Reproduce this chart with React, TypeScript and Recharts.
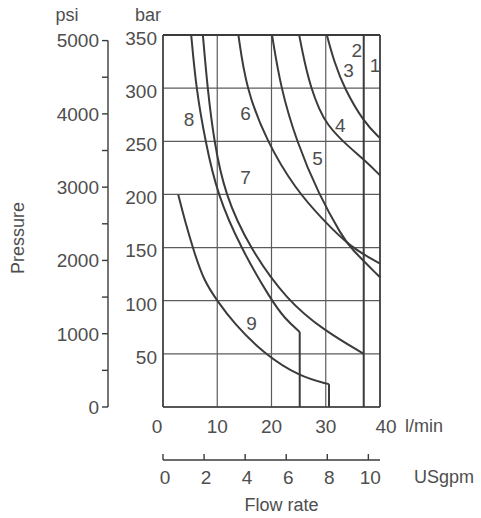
import {
  ComposedChart,
  Line,
  Scatter,
  XAxis,
  YAxis,
  CartesianGrid,
  ReferenceLine,
} from 'recharts'

// Pump power curves: pressure (bar / psi) against flow rate (l/min / USgpm).

const INK = '#3b3b3b'
const GRID = '#5c5c5c'
const TEXT = '#4e4e4e'
const FONT = '"Liberation Sans", Arial, Helvetica, sans-serif'
const NUM_SIZE = 19
const WORD_SIZE = 18

const W = 481
const H = 518
const PLOT_H = 372

const BAR_MAX = 350
const LPM_MAX = 40
const PSI_PER_BAR = 14.5038
const LPM_PER_GPM = 3.78541
const PSI_MAX = BAR_MAX * PSI_PER_BAR
const GPM_MAX = LPM_MAX / LPM_PER_GPM

const lpmTicks = [0, 10, 20, 30, 40]
const gpmTicks = [0, 2, 4, 6, 8, 10]
const barTicks = [0, 50, 100, 150, 200, 250, 300, 350]
const psiTicks = [0, 500, 1000, 1500, 2000, 2500, 3000, 3500, 4000, 4500, 5000]

const curve1 = [
  { q: 37, p: 350 },
  { q: 37, p: 0 },
]
const curve3 = [
  { q: 30.2, p: 350 },
  { q: 31.6, p: 324 },
  { q: 33.4, p: 300 },
  { q: 37, p: 268 },
  { q: 40, p: 253 },
]
const curve4 = [
  { q: 25.1, p: 350 },
  { q: 26.1, p: 324 },
  { q: 27.3, p: 300 },
  { q: 28.8, p: 280 },
  { q: 30.2, p: 266 },
  { q: 33.5, p: 248 },
  { q: 37, p: 233 },
  { q: 40, p: 218 },
]
const curve5 = [
  { q: 20.1, p: 350 },
  { q: 21.7, p: 300 },
  { q: 24.6, p: 250 },
  { q: 28.7, p: 200 },
  { q: 33.1, p: 160 },
  { q: 34.5, p: 150 },
  { q: 40, p: 122 },
]
const curve6 = [
  { q: 13.9, p: 350 },
  { q: 15.3, p: 300 },
  { q: 19.1, p: 250 },
  { q: 24.4, p: 205 },
  { q: 29.5, p: 176 },
  { q: 34.6, p: 150 },
  { q: 40, p: 135 },
]
const curve7 = [
  { q: 7.35, p: 350 },
  { q: 8.2, p: 300 },
  { q: 9.4, p: 250 },
  { q: 11.4, p: 200 },
  { q: 15.9, p: 150 },
  { q: 22.9, p: 100 },
  { q: 29.7, p: 72 },
  { q: 37, p: 50 },
]
const curve8 = [
  { q: 5.2, p: 350 },
  { q: 6.1, p: 300 },
  { q: 7.8, p: 250 },
  { q: 10, p: 200 },
  { q: 14.3, p: 150 },
  { q: 20, p: 100 },
  { q: 22.5, p: 83 },
  { q: 25.2, p: 70.6 },
]
const curve8Stop = [
  { q: 25.2, p: 70.6 },
  { q: 25.2, p: 0 },
]
const curve9 = [
  { q: 2.8, p: 200 },
  { q: 4.1, p: 174 },
  { q: 5.6, p: 148 },
  { q: 7.5, p: 119 },
  { q: 10, p: 100 },
  { q: 13, p: 79 },
  { q: 18.6, p: 50 },
  { q: 25.2, p: 28.5 },
  { q: 30.6, p: 21.5 },
]
const curve9Stop = [
  { q: 30.6, p: 21.5 },
  { q: 30.6, p: 0 },
]

const curveNames = [
  { q: 39.1, p: 322, name: '1' },
  { q: 35.7, p: 336, name: '2' },
  { q: 34.2, p: 317, name: '3' },
  { q: 32.7, p: 265, name: '4' },
  { q: 28.5, p: 234, name: '5' },
  { q: 15.2, p: 276, name: '6' },
  { q: 15.2, p: 216, name: '7' },
  { q: 4.8, p: 271, name: '8' },
  { q: 16.3, p: 79, name: '9' },
]

// corners of the secondary (psi / USgpm) scales, so those axes get ticks
const secondarySpan = [
  { g: 0, psi: 0 },
  { g: GPM_MAX, psi: PSI_MAX },
]

const smoothCurves = [curve3, curve4, curve5, curve6, curve7, curve8, curve9]
const straightCurves = [curve1, curve8Stop, curve9Stop]

const PsiTick = ({ x, y, payload }: any) => {
  const v = payload.value as number
  const step = (PLOT_H * 500) / PSI_MAX
  return (
    <g>
      <line x1={x - 6} x2={x} y1={y} y2={y} stroke={INK} strokeWidth={1.4} />
      {v > 0 && <line x1={x} x2={x} y1={y} y2={y + step} stroke={INK} strokeWidth={1.4} />}
      {v % 1000 === 0 && (
        <text x={x - 9} y={y} dy="0.36em" textAnchor="end" fill={TEXT} fontSize={NUM_SIZE}>
          {v}
        </text>
      )}
    </g>
  )
}

const BarTick = ({ x, y, payload }: any) =>
  payload.value === 0 ? null : (
    <text x={x - 6} y={y + 3} dy="0.36em" textAnchor="end" fill={TEXT} fontSize={NUM_SIZE}>
      {payload.value}
    </text>
  )

const LpmTick = ({ x, y, payload }: any) => {
  const v = payload.value as number
  const dx = v === 0 ? -6 : v === LPM_MAX ? 6 : 0
  return (
    <text x={x + dx} y={y + 19} dy="0.36em" textAnchor="middle" fill={TEXT} fontSize={NUM_SIZE}>
      {v}
    </text>
  )
}

const GpmTick = ({ x, y, payload }: any) => (
  <g>
    <line x1={x} x2={x} y1={y} y2={y - 6} stroke={INK} strokeWidth={1.4} />
    <text x={x + 2} y={y + 17} dy="0.36em" textAnchor="middle" fill={TEXT} fontSize={NUM_SIZE}>
      {payload.value}
    </text>
  </g>
)

const PsiLabel = ({ viewBox }: any) => {
  const { x, y, height } = viewBox
  return (
    <g fill={TEXT} fontSize={WORD_SIZE}>
      <text
        transform={`translate(${x + 18}, ${y + height / 2 + 17}) rotate(-90)`}
        textAnchor="middle"
        dy="0.36em"
      >
        Pressure
      </text>
      <text x={x + 67} y={y - 14} textAnchor="middle">
        psi
      </text>
    </g>
  )
}

const BarLabel = ({ viewBox }: any) => (
  <text x={viewBox.x + 40} y={viewBox.y - 14} textAnchor="middle" fill={TEXT} fontSize={WORD_SIZE}>
    bar
  </text>
)

const LpmLabel = ({ viewBox }: any) => {
  const { x, y, width } = viewBox
  return (
    <text x={x + width + 25} y={y + 19} dy="0.36em" fill={TEXT} fontSize={WORD_SIZE}>
      l/min
    </text>
  )
}

const GpmLabel = ({ viewBox }: any) => {
  const { x, y, width } = viewBox
  return (
    <g fill={TEXT} fontSize={WORD_SIZE}>
      <text x={x + width + 34} y={y + 17} dy="0.36em">
        USgpm
      </text>
      <text x={x + width / 2 + 10} y={y + 51} textAnchor="middle">
        Flow rate
      </text>
    </g>
  )
}

const CurveName = ({ cx, cy, payload }: any) => (
  <text x={cx} y={cy} dy="0.36em" textAnchor="middle" fill={TEXT} fontSize={NUM_SIZE}>
    {payload.name}
  </text>
)

export default function App() {
  return (
    <div
      style={{
        position: 'absolute',
        left: 0,
        top: 0,
        width: W,
        height: H,
        background: '#fff',
        fontFamily: FONT,
      }}
    >
      <ComposedChart width={W} height={H} margin={{ top: 35, right: 101, bottom: 0, left: 0 }}>
        <CartesianGrid xAxisId="x1" yAxisId="y1" stroke={GRID} strokeWidth={1.2} />
        {/* USgpm scale, outer bottom axis */}
        <XAxis
          xAxisId="x2"
          type="number"
          dataKey="g"
          domain={[0, GPM_MAX]}
          ticks={gpmTicks}
          interval={0}
          height={58}
          tickLine={false}
          tickSize={0}
          tickMargin={0}
          axisLine={{ stroke: INK, strokeWidth: 1.4 }}
          tick={<GpmTick />}
          label={<GpmLabel />}
        />
        {/* l/min scale, next to the plot */}
        <XAxis
          xAxisId="x1"
          type="number"
          dataKey="q"
          domain={[0, LPM_MAX]}
          ticks={lpmTicks}
          interval={0}
          height={53}
          tickLine={false}
          tickSize={0}
          tickMargin={0}
          axisLine={{ stroke: INK, strokeWidth: 1.5 }}
          tick={<LpmTick />}
          label={<LpmLabel />}
        />
        <YAxis
          yAxisId="y1"
          type="number"
          domain={[0, BAR_MAX]}
          ticks={barTicks}
          interval={0}
          width={55}
          tickLine={false}
          tickSize={0}
          tickMargin={0}
          axisLine={{ stroke: INK, strokeWidth: 1.5 }}
          tick={<BarTick />}
          label={<BarLabel />}
        />
        <YAxis
          yAxisId="y2"
          type="number"
          domain={[0, PSI_MAX]}
          ticks={psiTicks}
          interval={0}
          width={108}
          tickLine={false}
          tickSize={0}
          tickMargin={0}
          axisLine={false}
          tick={<PsiTick />}
          label={<PsiLabel />}
        />
        <Line
          xAxisId="x2"
          yAxisId="y2"
          data={secondarySpan}
          dataKey="psi"
          stroke="none"
          dot={false}
          activeDot={false}
          isAnimationActive={false}
        />
        <ReferenceLine xAxisId="x1" yAxisId="y1" y={BAR_MAX} stroke={INK} strokeWidth={2} />
        <ReferenceLine xAxisId="x1" yAxisId="y1" x={LPM_MAX} stroke={INK} strokeWidth={1.6} />
        {smoothCurves.map((d, i) => (
          <Line
            key={`s${i}`}
            xAxisId="x1"
            yAxisId="y1"
            data={d}
            dataKey="p"
            type="basis"
            stroke={INK}
            strokeWidth={2}
            dot={false}
            activeDot={false}
            isAnimationActive={false}
          />
        ))}
        {straightCurves.map((d, i) => (
          <Line
            key={`v${i}`}
            xAxisId="x1"
            yAxisId="y1"
            data={d}
            dataKey="p"
            type="linear"
            stroke={INK}
            strokeWidth={2}
            dot={false}
            activeDot={false}
            isAnimationActive={false}
          />
        ))}
        <Scatter
          xAxisId="x1"
          yAxisId="y1"
          data={curveNames}
          dataKey="p"
          shape={<CurveName />}
          isAnimationActive={false}
        />
      </ComposedChart>
    </div>
  )
}
